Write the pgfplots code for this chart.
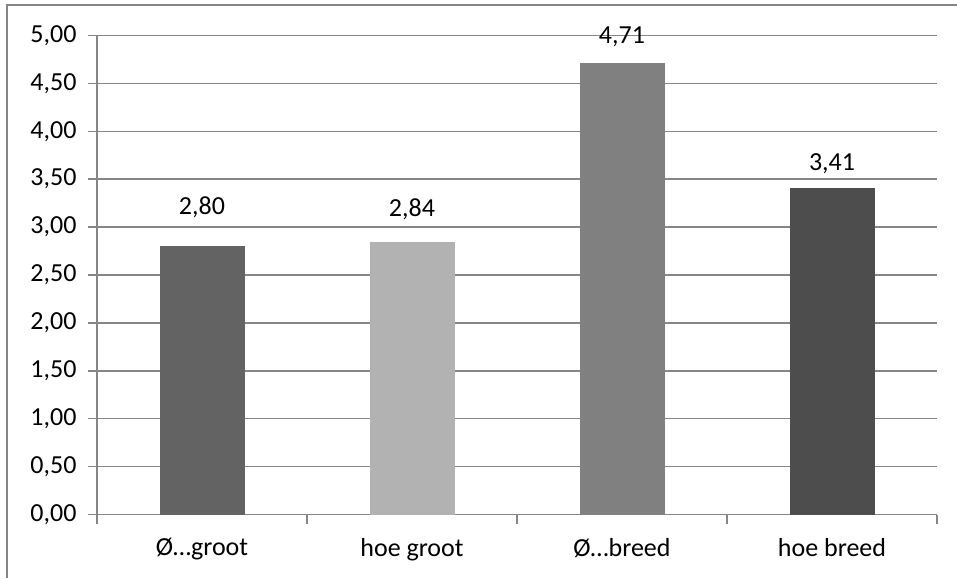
\documentclass[border=0pt]{standalone}
\usepackage{pgfplots}
\pgfplotsset{compat=1.18}
\usepackage{fontspec}
\setmainfont{Carlito}
\definecolor{gridc}{RGB}{134,134,134}
\definecolor{cA}{RGB}{99,99,99}
\definecolor{cB}{RGB}{178,178,178}
\definecolor{cC}{RGB}{128,128,128}
\definecolor{cD}{RGB}{77,77,77}
\begin{document}
\begin{tikzpicture}[x=1pt,y=1pt]
\useasboundingbox (0,0) rectangle (957,578);
\draw[gridc, line width=2pt] (7,0) -- (7,573) -- (957,573);
\begin{axis}[
  at={(97pt,63.5pt)}, anchor=south west,
  scale only axis, width=840pt, height=479pt,
  xmin=-0.5, xmax=3.5, ymin=0, ymax=5,
  axis lines*=left,
  axis line style={gridc, line width=1.5pt},
  every tick/.style={gridc, line width=1.5pt},
  font=\fontsize{26}{31}\selectfont,
  xtick={-0.5,0.5,1.5,2.5,3.5},
  xticklabels={},
  extra x ticks={0,1,2,3},
  extra x tick labels={Ø…groot, hoe groot, Ø…breed, hoe breed},
  extra x tick style={major tick length=0pt, grid=none, xticklabel style={yshift=-20pt}},
  ytick={0,0.5,...,5},
  ymajorgrids,
  grid style={gridc, line width=1.5pt},
  tick align=outside,
  major tick length=9pt,
  /pgf/number format/fixed,
  /pgf/number format/fixed zerofill,
  /pgf/number format/precision=2,
  /pgf/number format/use comma,
  /pgf/number format/assume math mode=true,
  yticklabel style={xshift=-8pt},
  ybar, bar width=85pt, bar shift=0pt,
  nodes near coords,
  nodes near coords style={anchor=base},
  clip=false,
]
\addplot[fill=cA, draw=none, nodes near coords style={yshift=32pt}] coordinates {(0,2.80)};
\addplot[fill=cB, draw=none, nodes near coords style={yshift=26pt}] coordinates {(1,2.84)};
\addplot[fill=cC, draw=none, nodes near coords style={yshift=20pt}] coordinates {(2,4.71)};
\addplot[fill=cD, draw=none, nodes near coords style={yshift=17pt}] coordinates {(3,3.41)};
\end{axis}
\end{tikzpicture}
\end{document}
